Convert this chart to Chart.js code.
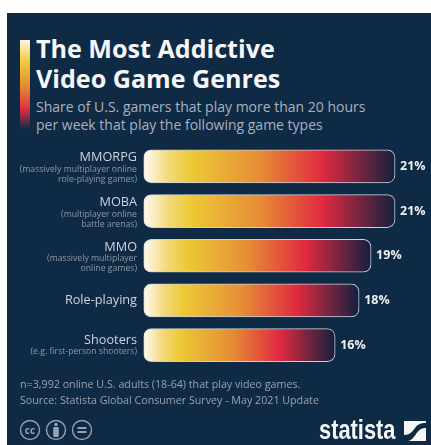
<!DOCTYPE html>
<html>
<head>
<meta charset="utf-8">
<script src="https://cdn.jsdelivr.net/npm/chart.js@4"></script>
<style>
  html, body { margin: 0; padding: 0; background: #fff; }
  #page { position: relative; width: 431px; height: 445px; overflow: hidden; font-family: "Open Sans", sans-serif; }
  #panel { position: absolute; left: 7px; top: 13px; right: 0; bottom: 0; background: #0f2a45; }
  #chartBox { position: absolute; left: 0; top: 0; width: 431px; height: 445px; }
  .txt { position: absolute; white-space: nowrap; }
  #accent { position: absolute; left: 20px; top: 40px; width: 10px; height: 89px;
    background: linear-gradient(#fff6dc 0%, #eec93a 25%, #e68a35 52%, #df2f40 78%, #0f2a45 100%); }
  #title { left: 36px; top: 34px; color: #f4f6f8; font-size: 25.1px; font-weight: 700; line-height: 29.5px; }
  #sub { left: 36px; top: 98px; color: #a8b2bd; font-size: 14px; line-height: 18px; }
  #foot { left: 20px; top: 377px; color: #97a2af; font-size: 10.7px; line-height: 15.5px; }
  #logoText { left: 319px; top: 415px; color: #f6f7f8; font-family: "Liberation Sans", sans-serif; font-size: 28px; font-weight: 700; line-height: 30px;
    transform: scaleX(0.78); transform-origin: left top; }
  #ccIcons { position: absolute; left: 19px; top: 419px; }
  #logoMark { position: absolute; left: 404px; top: 421px; }
</style>
</head>
<body>
<div id="page">
  <div id="panel"></div>
  <div id="accent"></div>
  <div class="txt" id="title">The Most Addictive<br>Video Game Genres</div>
  <div class="txt" id="sub">Share of U.S. gamers that play more than 20 hours<br>per week that play the following game types</div>
  <div id="chartBox"><canvas id="genreChart"></canvas></div>
  <div class="txt" id="foot">n=3,992 online U.S. adults (18-64) that play video games.<br>Source: Statista Global Consumer Survey - May 2021 Update</div>

  <!-- licence icons -->
  <svg id="ccIcons" width="78" height="24" viewBox="0 0 78 24" fill="none" stroke="#97a2ae" stroke-width="1.4">
    <circle cx="11" cy="11" r="9.5"/>
    <text x="11" y="14.5" text-anchor="middle" font-family="Open Sans" font-weight="700" font-size="10" fill="#97a2ae" stroke="none">cc</text>
    <circle cx="37" cy="11" r="9.5"/>
    <circle cx="37" cy="5.5" r="1.8" fill="#97a2ae" stroke="none"/>
    <rect x="34.2" y="8" width="5.6" height="10" rx="1.2" fill="#97a2ae" stroke="none"/>
    <circle cx="63" cy="11" r="9.5"/>
    <path d="M58.5 9h9M58.5 13h9" stroke-width="1.8"/>
  </svg>

  <div class="txt" id="logoText">statista</div>
  <svg id="logoMark" width="22" height="20" viewBox="0 0 22 20">
    <rect width="22" height="20" fill="#f6f7f8"/>
    <path d="M0 20V14C6 14 8 11 11 7C13 4 16 2 22 2V7C17 7 15 9 12 13C10 16 7 20 4 20Z" fill="#0f2a45"/>
  </svg>
</div>

<script>
// 장르별 데이터
const categories = ['MMORPG', 'MOBA', 'MMO', 'Role-playing', 'Shooters'];
const subLabels = [
    ['(massively multiplayer online', 'role-playing games)'],
    ['(multiplayer online', 'battle arenas)'],
    ['(massively multiplayer', 'online games)'],
    [],
    ['(e.g. first-person shooters)']
];
const shares = [21, 21, 19, 18, 16];

const gradStops = [0, 0.04, 0.1, 0.19, 0.46, 0.71, 1];
const gradColors = ['#fff9ec', '#faedc4', '#f2d97a', '#ecc935', '#e68d35', '#e02a40', '#13203f'];

// 막대마다 길이에 맞춰 그라데이션 생성
function barGradient(context) {
    const chart = context.chart;
    if (!chart.chartArea) return gradColors[3];
    const xs = chart.scales.x;
    const g = chart.ctx.createLinearGradient(xs.getPixelForValue(0), 0, xs.getPixelForValue(shares[context.dataIndex]), 0);
    gradStops.forEach(function(s, i) { g.addColorStop(s, gradColors[i]); });
    return g;
}

// 왼쪽 장르 이름, 오른쪽 퍼센트 글자
const barLabels = {
    id: 'barLabels',
    afterDatasetsDraw: function(chart) {
        const c = chart.ctx;
        const xs = chart.scales.x;
        const ys = chart.scales.y;
        c.save();
        categories.forEach(function(name, i) {
            const y = ys.getPixelForValue(i);
            const sub = subLabels[i];
            c.textAlign = 'right';
            c.textBaseline = 'middle';
            c.fillStyle = '#ced4db';
            c.font = '12.7px "Open Sans"';
            const nameY = y - (sub.length === 2 ? 8.5 : sub.length === 1 ? 5 : 0);
            c.fillText(name, 137, nameY);
            c.fillStyle = '#8c98a7';
            c.font = '8.7px "Open Sans"';
            sub.forEach(function(line, k) {
                c.fillText(line, 137, nameY + 11.5 + k * 10);
            });
            c.textAlign = 'left';
            c.fillStyle = '#eef1f4';
            c.font = '700 12.5px "Open Sans"';
            c.fillText(shares[i] + '%', xs.getPixelForValue(shares[i]) + 5, y);
        });
        c.restore();
    }
};

const ctx = document.getElementById('genreChart').getContext('2d');
const genreChart = new Chart(ctx, {
    type: 'bar',
    data: {
        labels: categories,
        datasets: [{
            data: shares,
            backgroundColor: barGradient,
            borderColor: '#c9d0d8',
            borderWidth: 1,
            borderSkipped: false,
            borderRadius: 8,
            barThickness: 33
        }]
    },
    options: {
        indexAxis: 'y',
        responsive: true,
        maintainAspectRatio: false,
        animation: false,
        layout: { padding: { left: 143.5, right: 0, top: 144, bottom: 77.5 } },
        plugins: { legend: { display: false }, tooltip: { enabled: false } },
        scales: {
            x: { display: false, min: 0, max: 24 },
            y: { display: false }
        }
    },
    plugins: [barLabels]
});
</script>
</body>
</html>
